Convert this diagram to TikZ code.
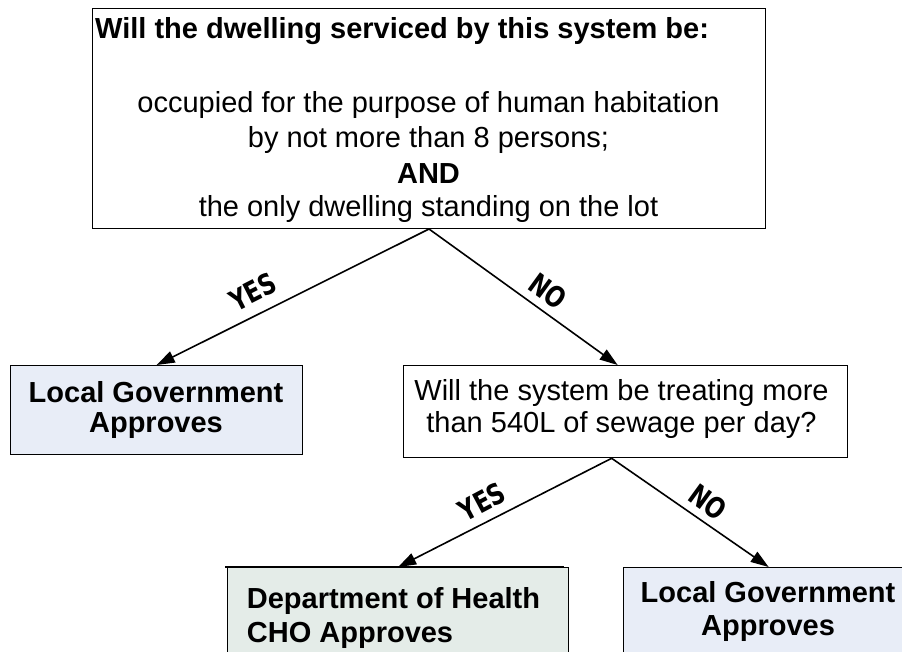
\documentclass[tikz,border=0pt]{standalone}
\usepackage{fontspec}
\setmainfont{Liberation Sans}
\newfontfamily\lblfont{DejaVu Sans}
\usetikzlibrary{arrows.meta}
\definecolor{lgblue}{HTML}{E8EDF7}
\definecolor{dohgreen}{HTML}{E4ECE8}
\newcommand\mytxt{\fontsize{29}{33}\selectfont}
\newcommand\lbltext[1]{\scalebox{0.95}[1.2]{#1}}
\tikzset{
  box/.style={draw=black, line width=1.3pt, inner sep=0pt, anchor=north west},
  txt/.style={inner sep=0pt, anchor=base, font=\mytxt},
  btxt/.style={inner sep=0pt, anchor=base, font=\mytxt\bfseries},
  lbl/.style={inner sep=0pt, font=\lblfont\bfseries\fontsize{24}{24}\selectfont},
  conn/.style={line width=1.6pt, -{Triangle[length=18pt,width=12pt]}}
}
\begin{document}
\begin{tikzpicture}[x=1pt,y=-1pt]
\useasboundingbox (0,0) rectangle (902,652);
\clip (0,0) rectangle (902,652);
% boxes
\node[box, line width=1pt, minimum width=673pt, minimum height=220pt] (q1) at (92,8) {};
\node[box, fill=lgblue, minimum width=292pt, minimum height=89pt] (lg1) at (10,365) {};
\node[box, minimum width=444pt, minimum height=92pt] (q2) at (403,365) {};
\node[box, fill=dohgreen, minimum width=341pt, minimum height=140pt] (doh) at (227,567) {};
\node[box, fill=lgblue, minimum width=290pt, minimum height=140pt] (lg2) at (623,567) {};
\draw[line width=2.4pt] ([xshift=-2pt]doh.north west) -- ([xshift=-5pt]doh.north east);
% texts
\node[btxt, anchor=base west] (t0) at (95,39) {Will the dwelling serviced by this system be:};
\node[txt] (t1) at (428.5,113) {occupied for the purpose of human habitation};
\node[txt] (t2) at (428.5,148) {by not more than 8 persons;};
\node[btxt] (t3) at (428.5,184) {AND};
\node[txt] (t4) at (428.5,217) {the only dwelling standing on the lot};
\node[btxt] (l1a) at (156,402) {Local Government};
\node[btxt] (l1b) at (156,432) {Approves};
\node[txt] (q2a) at (621.5,400) {Will the system be treating more};
\node[txt] (q2b) at (621.5,432) {than 540L of sewage per day?};
\node[btxt, anchor=base west] (da) at (246.7,608) {Department of Health};
\node[btxt, anchor=base west] (db) at (246.7,642) {CHO Approves};
\node[btxt] (l2a) at (768,602) {Local Government};
\node[btxt] (l2b) at (768,635) {Approves};
% connectors
\draw[conn] (q1.south) -- (lg1.north);
\draw[conn] (q1.south) -- ([xshift=-8pt]q2.north);
\draw[conn] ([xshift=-14pt]q2.south) -- (doh.north);
\draw[conn] ([xshift=-14pt]q2.south) -- (lg2.north);
% labels
\node[lbl, rotate=27] (y1) at (253,292) {\lbltext{YES}};
\node[lbl, rotate=-36] (n1) at (548,291) {\lbltext{NO}};
\node[lbl, rotate=28] (y2) at (482,502) {\lbltext{YES}};
\node[lbl, rotate=-36] (n2) at (708,502) {\lbltext{NO}};
\end{tikzpicture}
\end{document}
